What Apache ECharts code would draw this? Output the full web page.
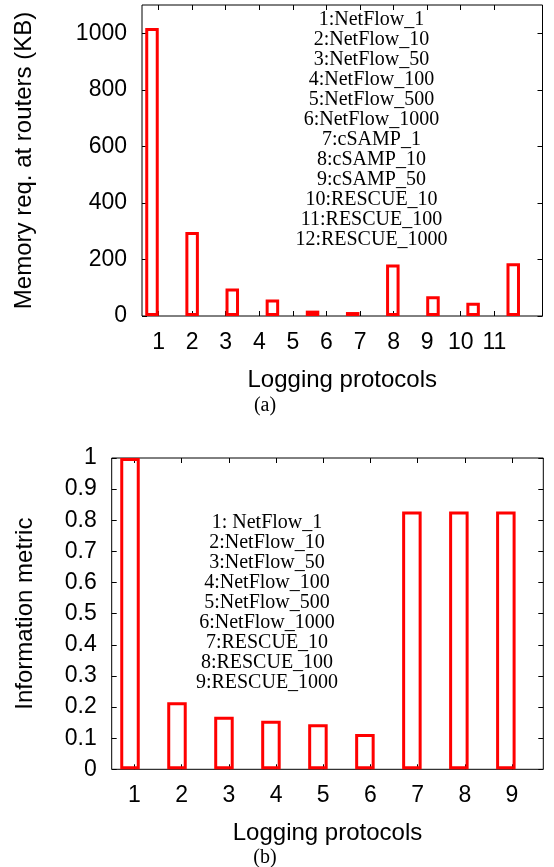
<!DOCTYPE html>
<html>
<head>
<meta charset="utf-8">
<title>Memory and information metric per logging protocol</title>
<script src="https://cdn.jsdelivr.net/npm/echarts@6/dist/echarts.min.js"></script>
<style>
  html, body { margin: 0; padding: 0; background: #fff; }
  #chart { width: 554px; height: 867px; }
</style>
</head>
<body>
<div id="chart"></div>
<script>
// (a) memory needed at routers, KB (bar 11 sits past the right border and gets cut)
const memBars = [1, 2, 3, 4, 5, 6, 7, 8, 9, 10, 11];
const memKB = [1019, 297, 97, 58, 19, 14, 182, 70, 47, 187, 30];
const memXTicks = [1, 2, 3, 4, 5, 6, 7, 8, 9, 10, 11];
const memYTicks = [0, 200, 400, 600, 800, 1000];
const memNames = ['1:NetFlow_1', '2:NetFlow_10', '3:NetFlow_50', '4:NetFlow_100',
  '5:NetFlow_500', '6:NetFlow_1000', '7:cSAMP_1', '8:cSAMP_10', '9:cSAMP_50',
  '10:RESCUE_10', '11:RESCUE_100', '12:RESCUE_1000'];

// (b) information metric
const infoBars = [1, 2, 3, 4, 5, 6, 7, 8, 9];
const infoVals = [1.0, 0.215, 0.169, 0.156, 0.145, 0.113, 0.828, 0.828, 0.828];
const infoXTicks = [1, 2, 3, 4, 5, 6, 7, 8, 9];
const infoYTicks = [0, 0.1, 0.2, 0.3, 0.4, 0.5, 0.6, 0.7, 0.8, 0.9, 1];
const infoNames = ['1: NetFlow_1', '2:NetFlow_10', '3:NetFlow_50', '4:NetFlow_100',
  '5:NetFlow_500', '6:NetFlow_1000', '7:RESCUE_10', '8:RESCUE_100', '9:RESCUE_1000'];

const SANS = '"Liberation Sans", Arial, sans-serif';
const SERIF = '"Liberation Serif", "Times New Roman", serif';
const tick = { show: true, inside: true, length: 5, lineStyle: { color: '#000', width: 1 } };
const plain = v => String(v);

// visible x axis with labels and ticks (gnuplot style, ticks inside)
function labelX(grid, min, max, ticks, name) {
  return {
    type: 'value', gridIndex: grid, position: 'bottom', min: min, max: max,
    axisLine: { show: false, onZero: false }, splitLine: { show: false },
    axisTick: Object.assign({ customValues: ticks }, tick),
    axisLabel: { customValues: ticks, formatter: plain, margin: 15, color: '#000', fontSize: 23, fontFamily: SANS },
    name: name, nameLocation: 'middle', nameGap: 52,
    nameTextStyle: { color: '#000', fontSize: 24, fontFamily: SANS }
  };
}
// mirrored ticks along the top border
function mirrorX(grid, min, max, ticks) {
  return {
    type: 'value', gridIndex: grid, position: 'top', min: min, max: max,
    axisLine: { show: false, onZero: false }, splitLine: { show: false },
    axisTick: Object.assign({ customValues: ticks }, tick),
    axisLabel: { show: false }
  };
}
// hidden axis the bars sit on
function barX(grid, min, max) {
  return { type: 'value', gridIndex: grid, min: min, max: max, show: false,
    axisLine: { onZero: false }, splitLine: { show: false } };
}
function leftY(grid, max, ticks, name, gap) {
  return {
    type: 'value', gridIndex: grid, position: 'left', min: 0, max: max,
    axisLine: { show: false, onZero: false }, splitLine: { show: false },
    axisTick: Object.assign({ customValues: ticks }, tick),
    axisLabel: { customValues: ticks, formatter: plain, margin: 15, color: '#000', fontSize: 23, fontFamily: SANS },
    name: name, nameLocation: 'middle', nameGap: gap,
    nameTextStyle: { color: '#000', fontSize: 24, fontFamily: SANS }
  };
}
function rightY(grid, max, ticks) {
  return {
    type: 'value', gridIndex: grid, position: 'right', min: 0, max: max,
    axisLine: { show: false, onZero: false }, splitLine: { show: false },
    axisTick: Object.assign({ customValues: ticks }, tick),
    axisLabel: { show: false }
  };
}
// bars on a value axis are not cut at the frame, so leave out any that fall past it
function hollowBars(xi, yi, xs, ys, w, xmax) {
  return {
    type: 'bar', xAxisIndex: xi, yAxisIndex: yi, barWidth: w,
    data: xs.map((x, i) => [x, ys[i]]).filter(p => p[0] < xmax),
    itemStyle: { color: 'rgba(0,0,0,0)', borderColor: '#ff0000', borderWidth: 3 },
    emphasis: { disabled: true }
  };
}

const chart = echarts.init(document.getElementById('chart'));
chart.setOption({
  animation: false,
  backgroundColor: '#fff',
  grid: [
    { left: 142, right: 11.5, top: 5, height: 311, show: true, borderColor: '#000', borderWidth: 1,
      outerBoundsMode: 'none' },
    { left: 111.7, right: 10.7, top: 458, height: 311.3, show: true, borderColor: '#000', borderWidth: 1,
      outerBoundsMode: 'none' }
  ],
  xAxis: [
    labelX(0, 0.506, 12.435, memXTicks, 'Logging protocols'),
    mirrorX(0, 0.506, 12.435, memXTicks),
    barX(0, 0.751, 10.729),
    labelX(1, 0.517, 9.663, infoXTicks, 'Logging protocols'),
    mirrorX(1, 0.517, 9.663, infoXTicks),
    barX(1, 0.6105, 9.797)
  ],
  yAxis: [
    leftY(0, 1100, memYTicks, 'Memory req. at routers (KB)', 106),
    rightY(0, 1100, memYTicks),
    leftY(1, 1, infoYTicks, 'Information metric', 74),
    rightY(1, 1, infoYTicks)
  ],
  series: [
    hollowBars(2, 0, memBars, memKB, 13.5, 10.729),
    hollowBars(5, 2, infoBars, infoVals, 19.5, 9.797)
  ],
  graphic: [
    { type: 'text', x: 371.5, y: 10, style: { text: memNames.join('\n'), fill: '#000',
      fontSize: 20, fontFamily: SERIF, lineHeight: 20, align: 'center', verticalAlign: 'top' } },
    { type: 'text', x: 267, y: 512.7, style: { text: infoNames.join('\n'), fill: '#000',
      fontSize: 20, fontFamily: SERIF, lineHeight: 20, align: 'center', verticalAlign: 'top' } },
    { type: 'text', x: 265, y: 406, style: { text: '(a)', fill: '#000',
      fontSize: 20, fontFamily: SERIF, align: 'center', verticalAlign: 'middle' } },
    { type: 'text', x: 265, y: 858, style: { text: '(b)', fill: '#000',
      fontSize: 20, fontFamily: SERIF, align: 'center', verticalAlign: 'middle' } }
  ]
});
</script>
</body>
</html>
